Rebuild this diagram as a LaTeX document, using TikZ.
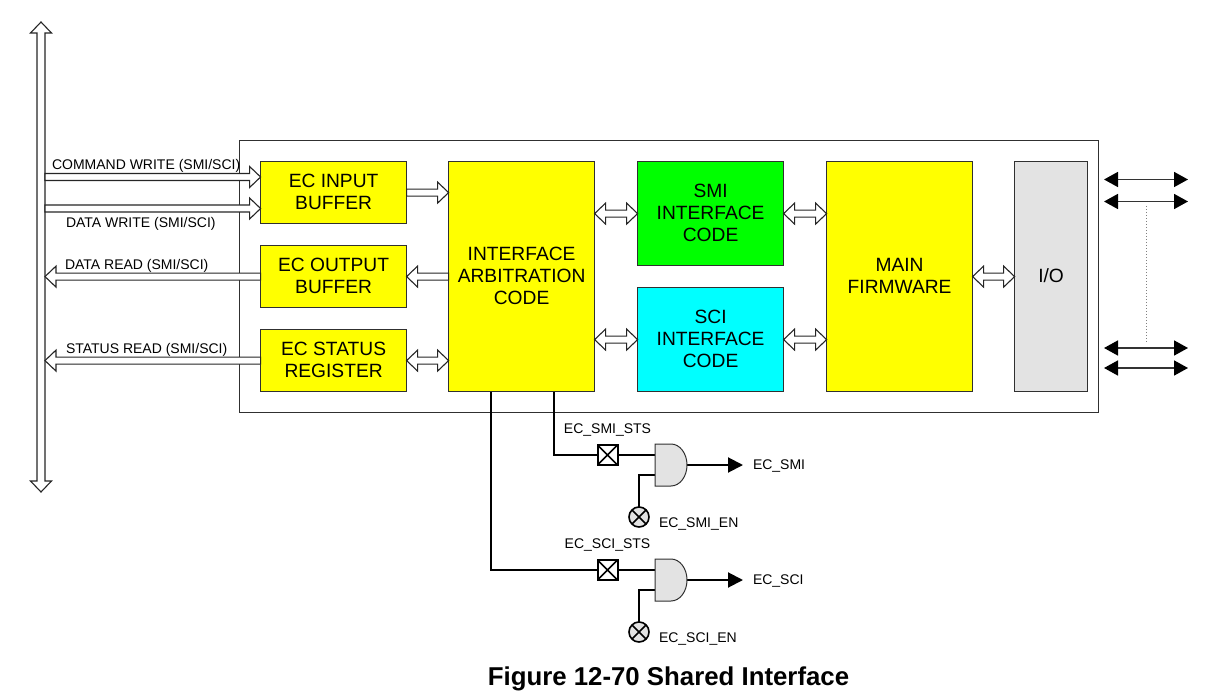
\documentclass[tikz,border=0pt]{standalone}
\usepackage{fontspec}
\setmainfont{Liberation Sans}
\usetikzlibrary{calc,arrows.meta}
\definecolor{ltgray}{HTML}{E3E3E3}
\definecolor{lnc}{HTML}{303030}
\definecolor{fy}{HTML}{FFFF00}
\definecolor{fg}{HTML}{00FF00}
\definecolor{fc}{HTML}{00FFFF}
\newcommand{\dn}{\rule[-2pt]{0pt}{2pt}}
\tikzset{
  x=1pt,y=-1pt,
  blk/.style={draw=lnc,line width=1pt,minimum height=#1,inner sep=0pt,outer sep=0pt,align=center,font=\fontsize{19.2}{22.3}\selectfont},
  hollow/.style={draw=black!85,fill=white,line width=1.1pt,line join=miter},
  lab/.style={inner sep=0pt,outer sep=0pt,font=\fontsize{14}{16}\selectfont},
  wire/.style={draw=black,line width=2pt},
  solidarrow/.style={draw=black!80,line width=1.6pt,{Triangle[length=14pt,width=15pt,black]}-{Triangle[length=14pt,width=15pt,black]}},
  gate/.style={draw=lnc,fill=ltgray,line width=1pt},
  xbox/.style={draw=black,fill=white,line width=2pt,minimum size=20pt,inner sep=0pt,outer sep=0pt,path picture={
    \draw[line width=1.6pt] (path picture bounding box.north west)--(path picture bounding box.south east)
      (path picture bounding box.north east)--(path picture bounding box.south west);}},
  xcirc/.style={circle,draw=black,fill=ltgray,line width=1.6pt,minimum size=20pt,inner sep=0pt,outer sep=0pt,path picture={
    \draw[line width=1.6pt] (path picture bounding box.north west)--(path picture bounding box.south east)
      (path picture bounding box.north east)--(path picture bounding box.south west);}},
}
% #1 start x, #2 tip x, #3 y source
\newcommand{\hollowR}[3]{\draw[hollow] let \p1=(#1),\p2=(#2),\p3=(#3) in
  (\x1,\y3+3.5pt)--(\x2-11pt,\y3+3.5pt)--(\x2-11pt,\y3+10.5pt)--(\x2,\y3)--(\x2-11pt,\y3-10.5pt)--(\x2-11pt,\y3-3.5pt)--(\x1,\y3-3.5pt)--cycle;}
\newcommand{\hollowL}[3]{\draw[hollow] let \p1=(#1),\p2=(#2),\p3=(#3) in
  (\x1,\y3+3.5pt)--(\x2+11pt,\y3+3.5pt)--(\x2+11pt,\y3+10.5pt)--(\x2,\y3)--(\x2+11pt,\y3-10.5pt)--(\x2+11pt,\y3-3.5pt)--(\x1,\y3-3.5pt)--cycle;}
\newcommand{\hollowB}[3]{\draw[hollow] let \p1=(#1),\p2=(#2),\p3=(#3) in
  (\x1,\y3)--(\x1+11pt,\y3+10.5pt)--(\x1+11pt,\y3+3.5pt)--(\x2-11pt,\y3+3.5pt)--(\x2-11pt,\y3+10.5pt)--(\x2,\y3)--(\x2-11pt,\y3-10.5pt)--(\x2-11pt,\y3-3.5pt)--(\x1+11pt,\y3-3.5pt)--(\x1+11pt,\y3-10.5pt)--cycle;}
\newcommand{\hollowV}[2]{\draw[hollow] let \p1=(#1),\p2=(#2) in
  (\x1,\y1)--(\x1+10.5pt,\y1-11pt)--(\x1+4pt,\y1-11pt)--(\x1+4pt,\y2+11pt)--(\x1+10.5pt,\y2+11pt)--(\x1,\y2)--(\x1-10.5pt,\y2+11pt)--(\x1-4pt,\y2+11pt)--(\x1-4pt,\y1-11pt)--(\x1-10.5pt,\y1-11pt)--cycle;}
\begin{document}
\begin{tikzpicture}
\useasboundingbox (0,0) rectangle (1212,692);
% outer frame and bus
\node[draw=lnc,line width=1pt,minimum width=859pt,minimum height=272pt,inner sep=0pt,outer sep=0pt] (frame) at (669.1,276.6) {};
\node[minimum width=8pt,minimum height=470pt,inner sep=0pt,outer sep=0pt] (bus) at (41,257) {};
% blocks
\node[blk=62pt,fill=fy,minimum width=146pt] (input) at (333.6,192.6) {EC INPUT\\BUFFER\dn};
\node[blk=62pt,fill=fy,minimum width=146pt] (output) at (333.6,276.6) {EC OUTPUT\\BUFFER\dn};
\node[blk=62pt,fill=fy,minimum width=146pt] (status) at (333.6,360.6) {EC STATUS\\REGISTER\dn};
\node[blk=230pt,fill=fy,minimum width=146pt] (arb) at (521.6,276.6) {INTERFACE\\ARBITRATION\\CODE\dn};
\node[blk=104pt,fill=fg,minimum width=146pt] (smi) at (710.6,213.6) {SMI\\INTERFACE\\CODE\dn};
\node[blk=104pt,fill=fc,minimum width=146pt] (sci) at (710.6,339.6) {SCI\\INTERFACE\\CODE\dn};
\node[blk=230pt,fill=fy,minimum width=146pt] (fw) at (899.6,276.6) {MAIN\\FIRMWARE\dn};
\node[blk=230pt,fill=ltgray,minimum width=73pt] (io) at (1051.1,276.6) {I/O\dn};
% y sources
\coordinate (cmdy) at (45,177);
\coordinate (daty) at (45,208.5);
% hollow arrows
\hollowV{bus.north}{bus.south}
\hollowR{bus.east}{input.west}{cmdy}
\hollowR{bus.east}{input.west}{daty}
\hollowL{output.west}{bus.east}{output.west}
\hollowL{status.west}{bus.east}{status.west}
\hollowR{input.east}{arb.west}{input.east}
\hollowL{arb.west}{output.east}{output.east}
\hollowB{status.east}{arb.west}{status.east}
\hollowB{arb.east}{smi.west}{smi.west}
\hollowB{arb.east}{sci.west}{sci.west}
\hollowB{smi.east}{fw.west}{smi.east}
\hollowB{sci.east}{fw.west}{sci.east}
\hollowB{fw.east}{io.west}{fw.east}
% bus labels
\node[lab,anchor=west] (lcw) at (52,165.5) {COMMAND WRITE (SMI/SCI)};
\node[lab,anchor=west] (ldw) at (66,223.5) {DATA WRITE (SMI/SCI)};
\node[lab,anchor=west] (ldr) at (65,265.5) {DATA READ (SMI/SCI)};
\node[lab,anchor=west] (lsr) at (66,349.5) {STATUS READ (SMI/SCI)};
% right pins
\coordinate (p1a) at (1104,179.5); \coordinate (p1b) at (1188,179.5);
\coordinate (p2a) at (1104,201.5); \coordinate (p2b) at (1188,201.5);
\coordinate (p3a) at (1104,348); \coordinate (p3b) at (1188,348);
\coordinate (p4a) at (1104,368); \coordinate (p4b) at (1188,368);
\draw[solidarrow] (p1a)--(p1b);
\draw[solidarrow] (p2a)--(p2b);
\draw[solidarrow] (p3a)--(p3b);
\draw[solidarrow] (p4a)--(p4b);
\coordinate (dt) at (1146,206); \coordinate (db) at (1146,342);
\draw[draw=gray,line width=1pt,dotted] (dt)--(db);
% SMI logic
\node[xbox] (bsmi) at (607.5,455) {};
\node[minimum width=32pt,minimum height=42pt,inner sep=0pt,outer sep=0pt] (gsmi) at (671,465) {};
\node[xcirc] (csmi) at (639,517) {};
\coordinate (tsmi) at (743,465);
\node[lab,anchor=west] (lsmi) at (753,466) {EC\_SMI};
\node[lab] (lsmists) at (607.5,430) {EC\_SMI\_STS};
\node[lab,anchor=west] (lsmien) at (659,524) {EC\_SMI\_EN};
\draw[wire] (arb.south -| 554,0) |- (bsmi.west);
\draw[wire] (bsmi.east) -- (gsmi.west |- bsmi.east);
\draw[wire] (csmi.north) |- ($(gsmi.west)+(0,10)$);
\draw[wire,-{Triangle[length=15pt,width=15pt,black]}] (gsmi.east) -- (tsmi);
\draw[gate] (gsmi.north west) -- (gsmi.north) arc[start angle=90,end angle=-90,x radius=16pt,y radius=21pt] -- (gsmi.south west) -- cycle;
% SCI logic
\node[xbox] (bsci) at (607.5,570) {};
\node[minimum width=32pt,minimum height=42pt,inner sep=0pt,outer sep=0pt] (gsci) at (671,580) {};
\node[xcirc] (csci) at (639,632) {};
\coordinate (tsci) at (743,580);
\node[lab,anchor=west] (lsci) at (753,581) {EC\_SCI};
\node[lab] (lscists) at (607.5,545) {EC\_SCI\_STS};
\node[lab,anchor=west] (lscien) at (659,639) {EC\_SCI\_EN};
\draw[wire] (arb.south -| 491,0) |- (bsci.west);
\draw[wire] (bsci.east) -- (gsci.west |- bsci.east);
\draw[wire] (csci.north) |- ($(gsci.west)+(0,10)$);
\draw[wire,-{Triangle[length=15pt,width=15pt,black]}] (gsci.east) -- (tsci);
\draw[gate] (gsci.north west) -- (gsci.north) arc[start angle=90,end angle=-90,x radius=16pt,y radius=21pt] -- (gsci.south west) -- cycle;
% title
\node[inner sep=0pt,font=\fontsize{25.8}{28}\selectfont\bfseries] (title) at (668.5,678.5) {Figure 12-70 Shared Interface};
\end{tikzpicture}
\end{document}
